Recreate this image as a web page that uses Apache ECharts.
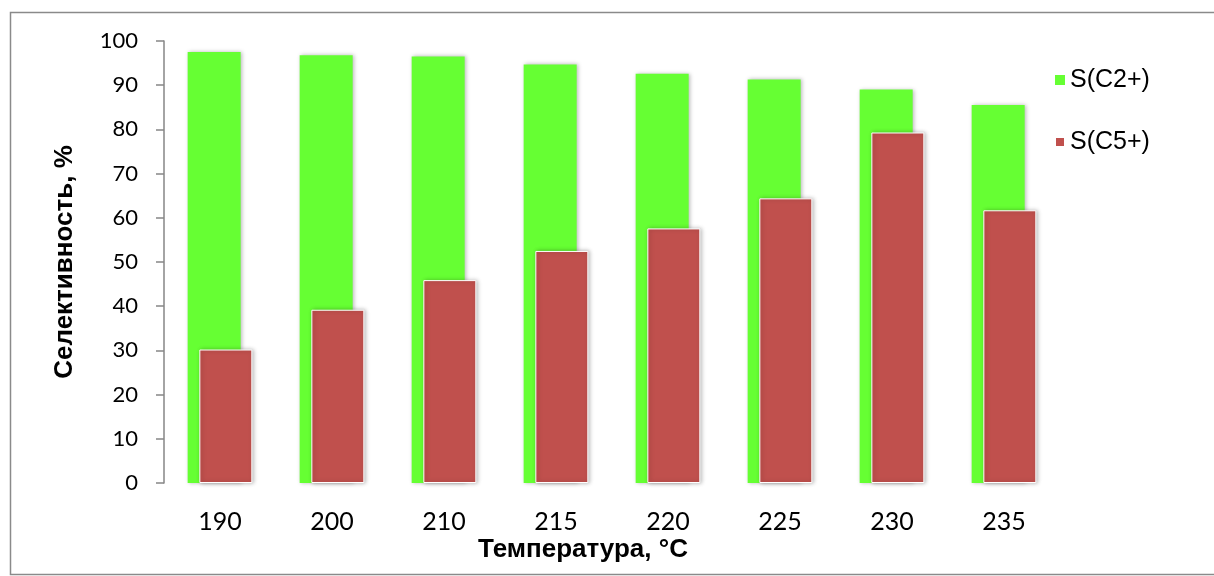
<!DOCTYPE html>
<html>
<head>
<meta charset="utf-8">
<script src="https://cdn.jsdelivr.net/npm/echarts@6/dist/echarts.min.js"></script>
<style>html,body{margin:0;padding:0;background:#fff;}#c{width:1214px;height:576px;}</style>
</head>
<body>
<div id="c"></div>
<script>
const categories = ['190', '200', '210', '215', '220', '225', '230', '235'];
const seriesNames = ['S(C2+)', 'S(C5+)'];
const sC2 = [97.5, 96.8, 96.5, 94.7, 92.6, 91.3, 89.0, 85.5];
const sC5 = [30.2, 39.2, 45.9, 52.5, 57.6, 64.4, 79.3, 61.7];
const yTicks = { min: 0, max: 100, interval: 10 };
const xTitle = 'Температура, °C';
const yTitle = 'Селективность, %';

const chart = echarts.init(document.getElementById('c'), null, { renderer: 'canvas' });
const barShadow = { shadowColor: 'rgba(0,0,0,0.28)', shadowBlur: 4, shadowOffsetX: 1.5, shadowOffsetY: 0 };
chart.setOption({
  animation: false,
  backgroundColor: '#fff',
  grid: { left: 164, top: 41, width: 896, bottom: 93, containLabel: false },
  legend: {
    orient: 'vertical',
    left: 1054,
    top: 67,
    padding: 0,
    itemWidth: 10,
    itemHeight: 10,
    itemGap: 36,
    itemTextGap: 7,
    icon: 'rect',
    textStyle: { fontFamily: 'Liberation Sans, Arial, sans-serif', fontSize: 25, color: '#000', lineHeight: 26 },
    data: seriesNames
  },
  xAxis: {
    type: 'category',
    data: categories,
    axisLine: { show: false },
    axisTick: { show: false },
    axisLabel: { margin: 26, fontFamily: 'Lato, sans-serif', fontSize: 25, color: '#000' }
  },
  yAxis: {
    type: 'value',
    min: yTicks.min, max: yTicks.max, interval: yTicks.interval,
    name: yTitle,
    nameLocation: 'middle',
    nameGap: 86,
    nameTextStyle: { fontFamily: 'Liberation Sans, Arial, sans-serif', fontWeight: 'bold', fontSize: 26, color: '#000' },
    axisLine: { show: true, lineStyle: { color: '#868686', width: 1.5 } },
    axisTick: { show: true, length: 8, lineStyle: { color: '#868686', width: 1.5 } },
    splitLine: { show: false },
    axisLabel: { margin: 26, fontFamily: 'Lato, sans-serif', fontSize: 22, color: '#000' }
  },
  graphic: [
    { type: 'rect', z: 100, silent: true, shape: { x: 10.5, y: 12.5, width: 1210, height: 562 }, style: { fill: 'none', stroke: '#8a8a8a', lineWidth: 1.5 } },
    { type: 'text', z: 100, x: 583, y: 550, style: { text: xTitle, fontFamily: 'Liberation Sans, Arial, sans-serif', fontWeight: 'bold', fontSize: 26, fill: '#000', textAlign: 'center', textVerticalAlign: 'middle' } }
  ],
  series: [
    { name: seriesNames[0], type: 'bar', data: sC2, barWidth: 53, barGap: '-78%', itemStyle: Object.assign({ color: '#66FF33' }, barShadow) },
    { name: seriesNames[1], type: 'bar', data: sC5, barWidth: 53, itemStyle: Object.assign({ color: '#C0504D', borderColor: '#ffffff', borderWidth: 1 }, barShadow) }
  ]
});
</script>
</body>
</html>
